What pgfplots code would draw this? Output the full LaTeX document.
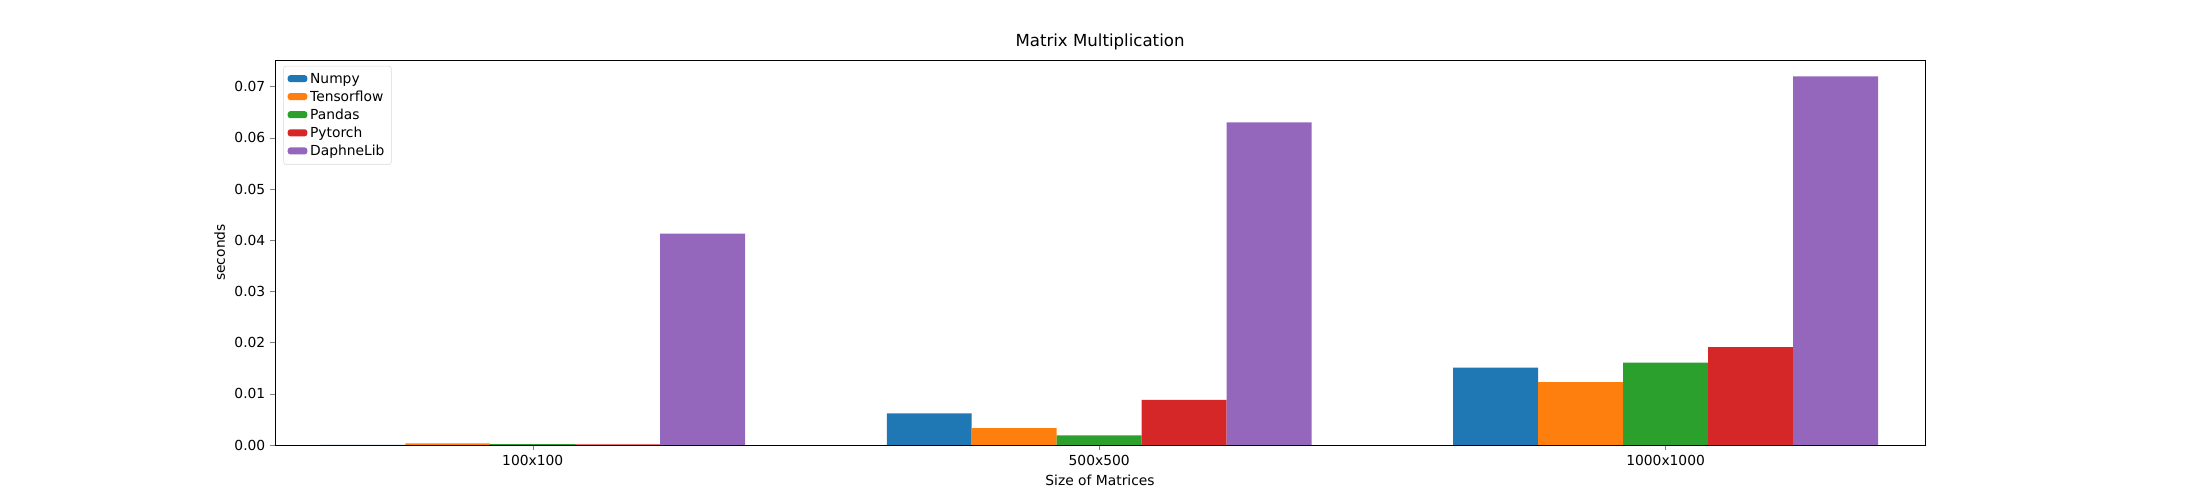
\documentclass[border=0pt]{standalone}
\usepackage{pgfplots}
\pgfplotsset{compat=1.18}
\usepackage{fontspec}
\setmainfont{DejaVu Sans}
\definecolor{c1}{HTML}{1F77B4}
\definecolor{c2}{HTML}{FF7F0E}
\definecolor{c3}{HTML}{2CA02C}
\definecolor{c4}{HTML}{D62728}
\definecolor{c5}{HTML}{9467BD}
\begin{document}
\fontsize{10pt}{12pt}\selectfont
\begin{tikzpicture}
\begin{axis}[
  width=16.5in, height=3.85in, scale only axis,
  at={(0,0)}, anchor=south west,
  xmin=-0.455, xmax=2.458, ymin=0, ymax=0.0752,
  ybar=0pt, bar width=0.15,
  xtick={0,1,2}, xticklabels={100x100,500x500,1000x1000},
  ytick={0,0.01,0.02,0.03,0.04,0.05,0.06,0.07},
  yticklabel style={/pgf/number format/.cd,fixed,fixed zerofill,precision=2},
  /pgf/number format/assume math mode=true,
  scaled y ticks=false,
  tick align=outside, tick pos=left,
  major tick length=3.5pt,
  title={Matrix Multiplication}, title style={font=\fontsize{12pt}{14pt}\selectfont, yshift=-2pt},
  xlabel={Size of Matrices}, ylabel={seconds},
  tick label style={font=\fontsize{10pt}{12pt}\selectfont},
  label style={font=\fontsize{10pt}{12pt}\selectfont},
  legend pos=north west,
  legend style={draw=black!15, rounded corners=2pt, font=\fontsize{10pt}{12pt}\selectfont, at={(0.005,0.985)}, anchor=north west, inner sep=3pt},
  legend cell align=left,
  legend image code/.code={\fill[#1] (0cm,-0.08cm) rectangle (0.5cm,0.1cm);},
]
\addplot[fill=c1,draw=none] coordinates {(0,0.00002) (1,0.0062) (2,0.0151)};
\addplot[fill=c2,draw=none] coordinates {(0,0.0003) (1,0.0033) (2,0.0123)};
\addplot[fill=c3,draw=none] coordinates {(0,0.00015) (1,0.0019) (2,0.0161)};
\addplot[fill=c4,draw=none] coordinates {(0,0.00012) (1,0.0088) (2,0.0191)};
\addplot[fill=c5,draw=none] coordinates {(0,0.0413) (1,0.0630) (2,0.0720)};
\legend{Numpy,Tensorflow,Pandas,Pytorch,DaphneLib}
\end{axis}
\path (-2.75in,-0.55in) rectangle (19.25in,4.45in);
\end{tikzpicture}
\end{document}
